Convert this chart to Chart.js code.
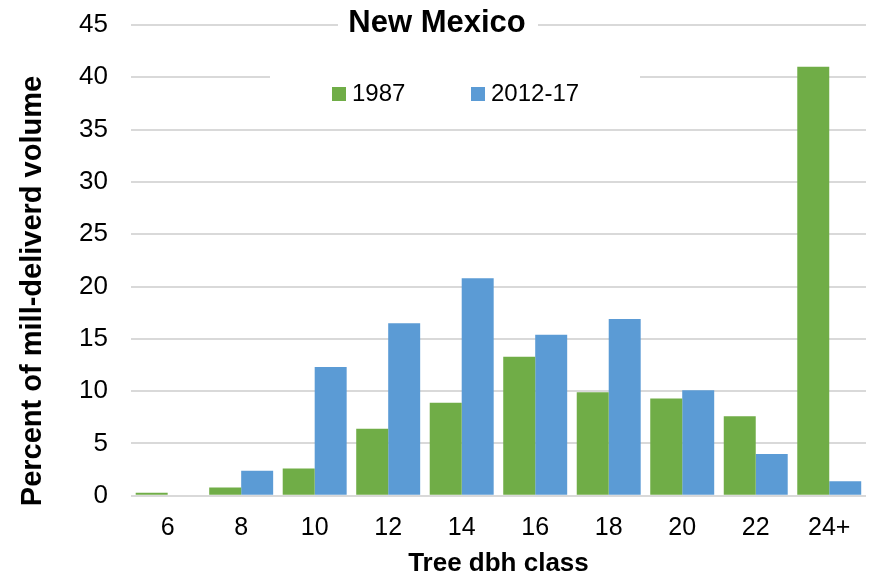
<!DOCTYPE html>
<html>
<head>
<meta charset="utf-8">
<script src="https://cdn.jsdelivr.net/npm/chart.js@4"></script>
<style>
html,body{margin:0;padding:0;background:#fff;}
#wrap{width:869px;height:578px;}
</style>
</head>
<body>
<div id="wrap"><canvas id="c" width="869" height="578"></canvas></div>
<script>
const categories = ['6','8','10','12','14','16','18','20','22','24+'];
const series1987 = [0.3, 0.8, 2.6, 6.4, 8.9, 13.3, 9.9, 9.3, 7.6, 41.0];
const series2012 = [0, 2.4, 12.3, 16.5, 20.8, 15.4, 16.9, 10.1, 4.0, 1.4];
const seriesLabels = ['1987', '2012-17'];
const chartTitle = 'New Mexico';
const yTitle = 'Percent of mill-deliverd volume';
const xTitle = 'Tree dbh class';

const FONT = 'Arial, "Liberation Sans", Helvetica, sans-serif';

const overlay = {
  id: 'overlay',
  afterDraw(chart) {
    const ctx = chart.ctx;
    const a = chart.chartArea;
    ctx.save();
    // y axis title (offset downward as in the original)
    ctx.save();
    ctx.translate(33, 291);
    ctx.rotate(-Math.PI / 2);
    ctx.fillStyle = '#000';
    ctx.font = 'bold 29px ' + FONT;
    ctx.textAlign = 'center';
    ctx.textBaseline = 'middle';
    ctx.fillText(yTitle, 0, 0);
    ctx.restore();
    // title box
    ctx.fillStyle = '#fff';
    ctx.fillRect(338, a.top - 6, 200, 14);
    ctx.fillStyle = '#000';
    ctx.font = 'bold 31px ' + FONT;
    ctx.textAlign = 'center';
    ctx.textBaseline = 'middle';
    ctx.fillText(chartTitle, 437, 23);
    // legend box
    ctx.fillStyle = '#fff';
    ctx.fillRect(270, 70, 370, 40);
    ctx.font = '24px ' + FONT;
    ctx.textAlign = 'left';
    const xs = [332, 471];
    chart.data.datasets.forEach((ds, i) => {
      ctx.fillStyle = ds.backgroundColor;
      ctx.fillRect(xs[i], 87, 14, 14);
      ctx.fillStyle = '#000';
      ctx.fillText(ds.label, xs[i] + 20, 94);
    });
    ctx.restore();
  }
};

new Chart(document.getElementById('c'), {
  type: 'bar',
  data: {
    labels: categories,
    datasets: [
      { label: seriesLabels[0], data: series1987, backgroundColor: '#70AD47' },
      { label: seriesLabels[1], data: series2012, backgroundColor: '#5B9BD5' }
    ]
  },
  options: {
    responsive: false,
    animation: false,
    devicePixelRatio: 1,
    layout: { padding: { top: 25, right: 3, left: 56, bottom: -1 } },
    plugins: { legend: { display: false }, title: { display: false }, tooltip: { enabled: false } },
    datasets: { bar: { categoryPercentage: 0.87, barPercentage: 1.0 } },
    scales: {
      x: {
        grid: { display: false, drawTicks: false },
        border: { display: false },
        ticks: { color: '#000', font: { family: FONT, size: 25 }, padding: 17, maxRotation: 0 },
        title: { display: true, text: xTitle, color: '#000', font: { family: FONT, size: 26, weight: 'bold' }, padding: { top: -12, bottom: 0 } }
      },
      y: {
        min: 0, max: 45,
        afterFit: (s) => { s.paddingTop = 0; },
        grid: { color: '#d9d9d9', lineWidth: 2, drawTicks: false },
        border: { display: false },
        ticks: { stepSize: 5, color: '#000', font: { family: FONT, size: 26 }, padding: 23 },
        title: { display: false }
      }
    }
  },
  plugins: [overlay]
});
</script>
</body>
</html>
